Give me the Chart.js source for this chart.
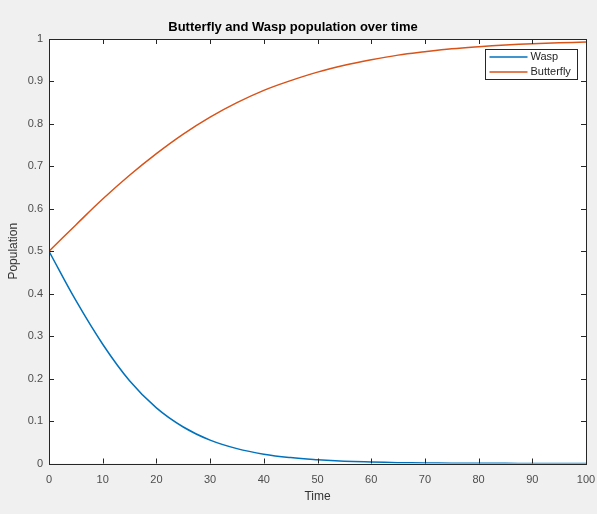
<!DOCTYPE html>
<html>
<head>
<meta charset="utf-8">
<script src="https://cdn.jsdelivr.net/npm/chart.js@4"></script>
<style>
    html, body { margin: 0; padding: 0; background: #f0f0f0; }
    canvas { display: block; }
</style>
</head>
<body>
<canvas id="popChart" width="597" height="514"></canvas>
<script>
// values, every 5 time units
const times = [0, 5, 10, 15, 20, 25, 30, 35, 40, 45, 50, 55, 60, 65, 70, 75, 80, 85, 90, 95, 100];
const wasp = [0.5, 0.384, 0.281, 0.195, 0.131, 0.086, 0.055, 0.035, 0.022, 0.014, 0.009, 0.0055, 0.0035, 0.002, 0.0013, 0.0008, 0.0005, 0.0003, 0.0002, 0.0001, 0.0001];
const butterfly = [0.5, 0.562, 0.623, 0.679, 0.730, 0.776, 0.816, 0.850, 0.879, 0.902, 0.922, 0.938, 0.951, 0.962, 0.970, 0.977, 0.982, 0.986, 0.989, 0.991, 0.993];
const seriesNames = ['Wasp', 'Butterfly'];
const seriesColors = ['#0072bd', '#d95319'];

const FONT = '"Liberation Sans", Arial, Helvetica, sans-serif';
const AXIS_COLOR = '#262626';

function toPoints(values) {
    return times.map((t, i) => ({ x: t, y: values[i] }));
}

// grey figure background, white axes, box with inward ticks (matlab style)
const matlabFrame = {
    id: 'matlabFrame',
    beforeDraw(chart) {
        const { ctx, chartArea: a } = chart;
        ctx.save();
        ctx.fillStyle = '#f0f0f0';
        ctx.fillRect(0, 0, chart.width, chart.height);
        ctx.fillStyle = '#ffffff';
        ctx.fillRect(a.left, a.top, a.right - a.left, a.bottom - a.top);
        ctx.restore();
    },
    afterDatasetsDraw(chart) {
        const { ctx, chartArea: a, scales } = chart;
        const len = 5;
        ctx.save();
        ctx.strokeStyle = AXIS_COLOR;
        ctx.lineWidth = 1;
        ctx.beginPath();
        scales.x.ticks.forEach(t => {
            const px = Math.round(scales.x.getPixelForValue(t.value)) + 0.5;
            ctx.moveTo(px, a.bottom); ctx.lineTo(px, a.bottom - len);
            ctx.moveTo(px, a.top); ctx.lineTo(px, a.top + len);
        });
        scales.y.ticks.forEach(t => {
            const py = Math.round(scales.y.getPixelForValue(t.value)) + 0.5;
            ctx.moveTo(a.left, py); ctx.lineTo(a.left + len, py);
            ctx.moveTo(a.right, py); ctx.lineTo(a.right - len, py);
        });
        ctx.stroke();
        ctx.strokeRect(Math.round(a.left) + 0.5, Math.round(a.top) + 0.5,
            Math.round(a.right - a.left), Math.round(a.bottom - a.top));
        ctx.restore();
    }
};

// legend box in the top right corner of the axes
const cornerLegend = {
    id: 'cornerLegend',
    afterDraw(chart) {
        const { ctx, chartArea: a } = chart;
        const w = 92, h = 30;
        const x0 = Math.round(a.right - 9 - w) + 0.5;
        const y0 = Math.round(a.top + 10) + 0.5;
        ctx.save();
        ctx.fillStyle = '#ffffff';
        ctx.fillRect(x0, y0, w, h);
        ctx.strokeStyle = AXIS_COLOR;
        ctx.lineWidth = 1;
        ctx.strokeRect(x0, y0, w, h);
        ctx.font = '11px ' + FONT;
        ctx.textBaseline = 'middle';
        chart.data.datasets.forEach((ds, i) => {
            const y = y0 + 7.5 + i * 15;
            ctx.strokeStyle = ds.borderColor;
            ctx.lineWidth = 1.5;
            ctx.beginPath();
            ctx.moveTo(x0 + 4, y);
            ctx.lineTo(x0 + 42, y);
            ctx.stroke();
            ctx.fillStyle = '#262626';
            ctx.fillText(ds.label, x0 + 45, y);
        });
        ctx.restore();
    }
};

const ctx = document.getElementById('popChart').getContext('2d');
new Chart(ctx, {
    type: 'line',
    data: {
        datasets: [
            {
                label: seriesNames[0],
                data: toPoints(wasp),
                borderColor: seriesColors[0],
                borderWidth: 1.5,
                pointRadius: 0,
                fill: false,
                tension: 0.4
            },
            {
                label: seriesNames[1],
                data: toPoints(butterfly),
                borderColor: seriesColors[1],
                borderWidth: 1.5,
                pointRadius: 0,
                fill: false,
                tension: 0.4
            }
        ]
    },
    options: {
        responsive: false,
        animation: false,
        devicePixelRatio: 1,
        layout: { padding: { left: 0, right: 11, top: 0, bottom: 0 } },
        plugins: {
            legend: { display: false },
            tooltip: { enabled: false },
            title: {
                display: true,
                text: 'Butterfly and Wasp population over time',
                color: '#000000',
                font: { family: FONT, size: 13, weight: 'bold', lineHeight: 1.2 },
                padding: { top: 20, bottom: 3.4 }
            }
        },
        scales: {
            x: {
                type: 'linear',
                min: 0,
                max: 100,
                grid: { display: false, drawTicks: false },
                border: { display: false },
                ticks: {
                    stepSize: 10,
                    padding: 10,
                    maxRotation: 0,
                    color: '#4d4d4d',
                    font: { family: FONT, size: 11 }
                },
                title: {
                    display: true,
                    text: 'Time',
                    color: '#333333',
                    font: { family: FONT, size: 12, lineHeight: 1.2 },
                    padding: { top: 0, bottom: 9.8 }
                },
                afterFit(scale) {
                    scale.height = 50.5;
                    scale.paddingLeft = 0;
                    scale.paddingRight = 0;
                }
            },
            y: {
                min: 0,
                max: 1,
                grid: { display: false, drawTicks: false },
                border: { display: false },
                ticks: {
                    stepSize: 0.1,
                    padding: 6,
                    color: '#4d4d4d',
                    font: { family: FONT, size: 11 },
                    callback: v => String(Number(v.toFixed(1)))
                },
                title: {
                    display: true,
                    text: 'Population',
                    color: '#333333',
                    font: { family: FONT, size: 12, lineHeight: 1.2 },
                    padding: { top: 6.8, bottom: 0 }
                },
                afterFit(scale) { scale.width = 49; }
            }
        }
    },
    plugins: [matlabFrame, cornerLegend]
});
</script>
</body>
</html>
